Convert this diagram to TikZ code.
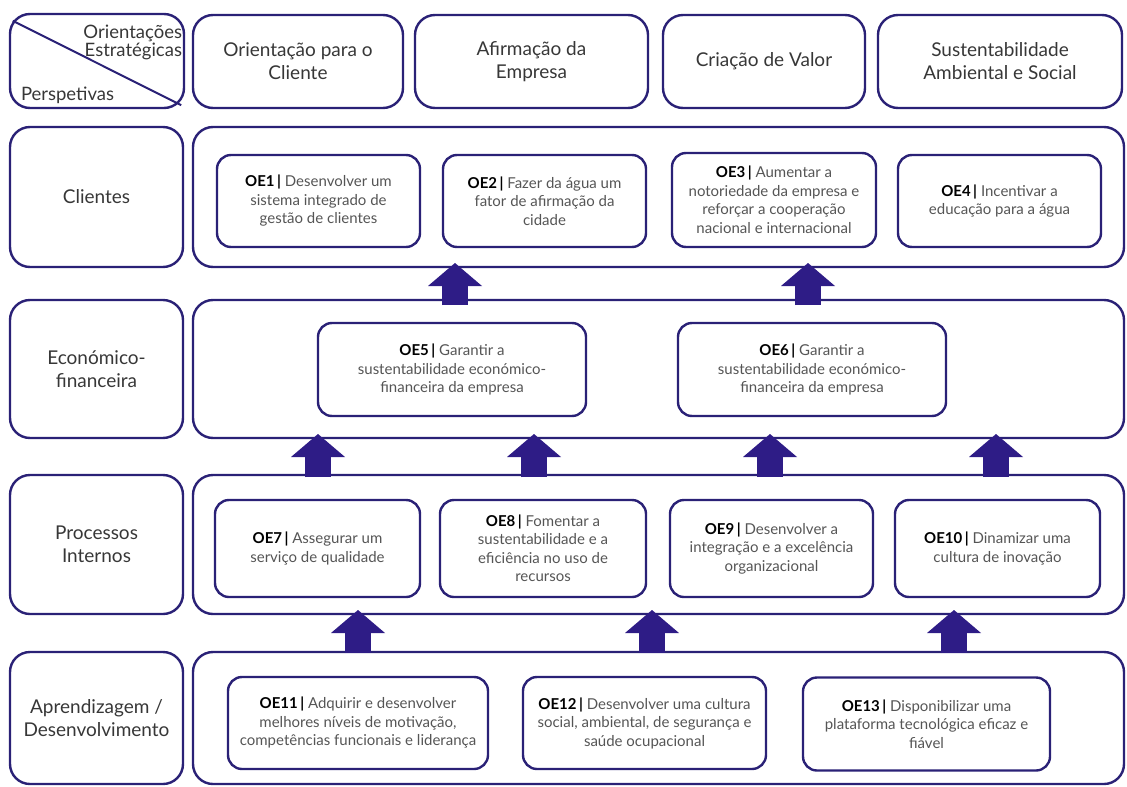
\documentclass[tikz,border=0pt]{standalone}
\usepackage{fontspec}
\setmainfont{Lato}
\usetikzlibrary{arrows.meta}

\definecolor{boxline}{RGB}{42,33,118}
\definecolor{arrowblue}{RGB}{46,28,134}
\definecolor{labeltxt}{RGB}{55,55,55}
\definecolor{oetxt}{RGB}{85,85,85}

\newcommand{\oenum}[1]{\textbf{\color{black}#1\,|}\ }

\tikzset{
  box/.style={draw=boxline, line width=2.4pt, rounded corners=20pt, inner sep=0pt,
    align=center, text=labeltxt, font=\fontsize{19}{23}\selectfont},
  oe/.style={draw=boxline, line width=2.4pt, rounded corners=14pt, inner sep=0pt,
    align=center, text=oetxt, font=\fontsize{15}{18.5}\selectfont},
  uparr/.style={draw=arrowblue, line width=26pt,
    -{Triangle[length=23pt,width=54pt,line width=0pt]}}
}

\begin{document}
\begin{tikzpicture}[x=1pt,y=-1pt]
  \useasboundingbox (0,0) rectangle (1127,787);

  % corner box
  \node[box, minimum width=174pt, minimum height=94pt] (corner) at (97,61) {};
  \draw[boxline, line width=2pt] ([shift={(4pt,-8pt)}]corner.north west)
        -- ([shift={(-4pt,4pt)}]corner.south east);
  \node[anchor=north east, inner sep=0pt, align=right, text=labeltxt,
        font=\fontsize{18.5}{18}\selectfont] (orient) at ([shift={(-3pt,-12pt)}]corner.north east)
        {Orientações\\Estratégicas};
  \node[anchor=base west, inner sep=0pt, text=labeltxt,
        font=\fontsize{18.5}{18}\selectfont] (persp) at ([shift={(12pt,9pt)}]corner.south west)
        {Perspetivas};

  % orientations
  \node[box, minimum width=210pt, minimum height=93pt] (ocli) at (298,61.5) {Orientação para o\\Cliente};
  \node[box, minimum width=233pt, minimum height=93pt] (oafi) at (531.5,61.5) {Afirmação da\\Empresa};
  \node[box, minimum width=202pt, minimum height=93pt] (oval) at (764,61.5) {Criação de Valor};
  \node[box, minimum width=244pt, minimum height=93pt] (osus) at (1000,61.5) {Sustentabilidade\\Ambiental e Social};

  % perspectives
  \node[box, minimum width=173pt, minimum height=140pt] (lcli) at (96.5,197) {Clientes};
  \node[box, minimum width=173pt, minimum height=138pt] (leco) at (96.5,369) {Económico-\\financeira};
  \node[box, minimum width=173pt, minimum height=139pt] (lpro) at (96.5,544.5) {Processos\\Internos};
  \node[box, minimum width=173pt, minimum height=132pt] (lapr) at (96.5,718) {Aprendizagem /\\Desenvolvimento};

  \node[box, minimum width=931pt, minimum height=140pt] (cli) at (658.5,197) {};
  \node[box, minimum width=931pt, minimum height=138pt] (eco) at (658.5,369) {};
  \node[box, minimum width=931pt, minimum height=139pt] (pro) at (658.5,544.5) {};
  \node[box, minimum width=931pt, minimum height=132pt] (apr) at (658.5,718) {};

  % objectives
  \node[oe, minimum width=203pt, minimum height=92pt] (oe1) at (318.5,201)
    {\oenum{OE1}Desenvolver um\\sistema integrado de\\gestão de clientes};
  \node[oe, minimum width=203pt, minimum height=92pt] (oe2) at (544.5,201)
    {\oenum{OE2}Fazer da água um\\fator de afirmação da\\cidade};
  \node[oe, minimum width=204pt, minimum height=94pt] (oe3) at (774,200)
    {\oenum{OE3}Aumentar a\\notoriedade da empresa e\\reforçar a cooperação\\nacional e internacional};
  \node[oe, minimum width=203pt, minimum height=92pt] (oe4) at (999.5,201)
    {\oenum{OE4}Incentivar a\\educação para a água};

  \node[oe, minimum width=268pt, minimum height=93pt] (oe5) at (452,369.5)
    {\oenum{OE5}Garantir a\\sustentabilidade económico-\\financeira da empresa};
  \node[oe, minimum width=268pt, minimum height=93pt] (oe6) at (812,369.5)
    {\oenum{OE6}Garantir a\\sustentabilidade económico-\\financeira da empresa};

  \node[oe, minimum width=205pt, minimum height=97pt] (oe7) at (317.5,548.5)
    {\oenum{OE7}Assegurar um\\serviço de qualidade};
  \node[oe, minimum width=206pt, minimum height=97pt] (oe8) at (543,548.5)
    {\oenum{OE8}Fomentar a\\sustentabilidade e a\\eficiência no uso de\\recursos};
  \node[oe, minimum width=203pt, minimum height=97pt] (oe9) at (771.5,548.5)
    {\oenum{OE9}Desenvolver a\\integração e a excelência\\organizacional};
  \node[oe, minimum width=205pt, minimum height=97pt] (oe10) at (997.5,548.5)
    {\oenum{OE10}Dinamizar uma\\cultura de inovação};

  \node[oe, minimum width=260pt, minimum height=92pt] (oe11) at (358,723)
    {\oenum{OE11}Adquirir e desenvolver\\melhores níveis de motivação,\\competências funcionais e liderança};
  \node[oe, minimum width=243pt, minimum height=92pt] (oe12) at (644.5,723)
    {\oenum{OE12}Desenvolver uma cultura\\social, ambiental, de segurança e\\saúde ocupacional};
  \node[oe, minimum width=247pt, minimum height=93pt] (oe13) at (926.5,724)
    {\oenum{OE13}Disponibilizar uma\\plataforma tecnológica eficaz e\\fiável};

  % arrows between perspectives
  \foreach \n/\x in {1/455,2/808}{
    \coordinate (eco\n) at (\x,305);
    \coordinate (cli\n) at (\x,263);
    \draw[uparr] (eco\n) -- (cli\n);
  }
  \foreach \n/\x in {1/318,2/534,3/770,4/996}{
    \coordinate (pro\n) at (\x,477);
    \coordinate (ecb\n) at (\x,434);
    \draw[uparr] (pro\n) -- (ecb\n);
  }
  \foreach \n/\x in {1/358,2/652,3/954}{
    \coordinate (apr\n) at (\x,653);
    \coordinate (prb\n) at (\x,610);
    \draw[uparr] (apr\n) -- (prb\n);
  }
\end{tikzpicture}
\end{document}
